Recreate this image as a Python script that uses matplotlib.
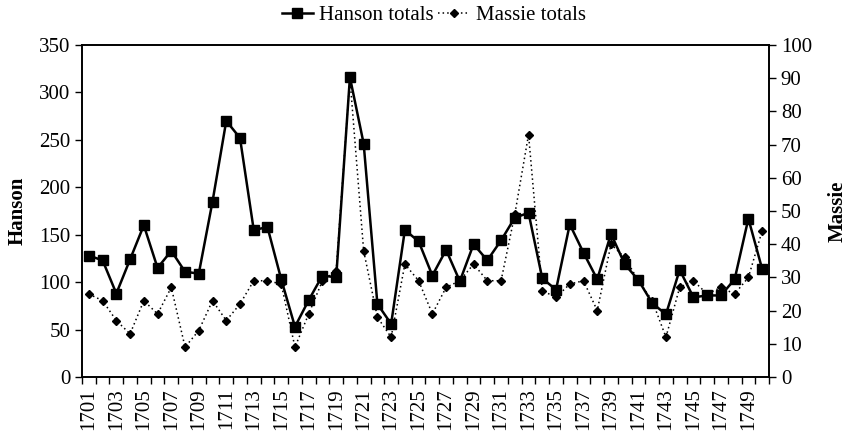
import matplotlib
matplotlib.use("Agg")
import matplotlib.pyplot as plt
from matplotlib.ticker import FixedLocator, NullFormatter

plt.rcParams['font.family'] = ['Liberation Serif', 'DejaVu Serif']

years = list(range(1701, 1751))
hanson = [128, 123, 88, 124, 160, 115, 133, 111, 109, 185,
          270, 252, 155, 158, 103, 53, 81, 107, 105, 316,
          246, 77, 56, 155, 143, 107, 134, 101, 140, 123,
          144, 168, 173, 104, 92, 161, 131, 103, 151, 119,
          102, 78, 66, 113, 84, 86, 86, 103, 167, 114]
massie = [25, 23, 17, 13, 23, 19, 27, 9, 14, 23,
          17, 22, 29, 29, 28, 9, 19, 29, 32, 90,
          38, 18, 12, 34, 29, 19, 27, 29, 34, 29,
          29, 49, 73, 26, 24, 28, 29, 20, 40, 36,
          29, 23, 12, 27, 29, 25, 27, 25, 30, 44]

fig = plt.figure(figsize=(8.47, 4.34), dpi=100)
ax = fig.add_axes([0.0968, 0.1313, 0.8111, 0.765])
ax2 = ax.twinx()

x = list(range(len(years)))
ax2.plot(x, massie, color='black', linestyle=(0, (1, 2)), linewidth=1.1,
         marker='D', markersize=4.5, label='Massie totals')
ax.plot(x, hanson, color='black', linestyle='-', linewidth=1.8,
        marker='s', markersize=6.5, label='Hanson totals')
ax.set_zorder(ax2.get_zorder() + 1)
ax.patch.set_visible(False)

ax.set_xlim(-0.5, len(years) - 0.5)
ax.set_ylim(0, 350)
ax2.set_ylim(0, 100)
ax.set_yticks(range(0, 351, 50))
ax2.set_yticks(range(0, 101, 10))

# category axis: labels every other year, tick marks between categories
ax.set_xticks(x[::2])
ax.set_xticklabels([str(y) for y in years[::2]], rotation=90)
ax.tick_params(axis='x', which='major', length=0, pad=8)
ax.xaxis.set_minor_locator(FixedLocator([i - 0.5 for i in range(len(years) + 1)]))
ax.xaxis.set_minor_formatter(NullFormatter())
ax.tick_params(axis='x', which='minor', length=5, direction='out', width=1)

for a in (ax, ax2):
    a.tick_params(axis='y', labelsize=15, length=5, width=1, direction='out')
    for s in a.spines.values():
        s.set_linewidth(1.2)
ax.tick_params(axis='x', labelsize=15)

ax.set_ylabel('Hanson', fontsize=15, fontweight='bold', labelpad=8)
ax2.set_ylabel('Massie', fontsize=15, fontweight='bold', labelpad=11)

h1, l1 = ax.get_legend_handles_labels()
h2, l2 = ax2.get_legend_handles_labels()
fig.legend(h1 + h2, l1 + l2, loc='upper center', bbox_to_anchor=(0.512, 1.03),
           ncol=2, frameon=False, fontsize=15, handlelength=1.5,
           columnspacing=0.2, handletextpad=0.3)

fig.savefig('out.png', dpi=100)
